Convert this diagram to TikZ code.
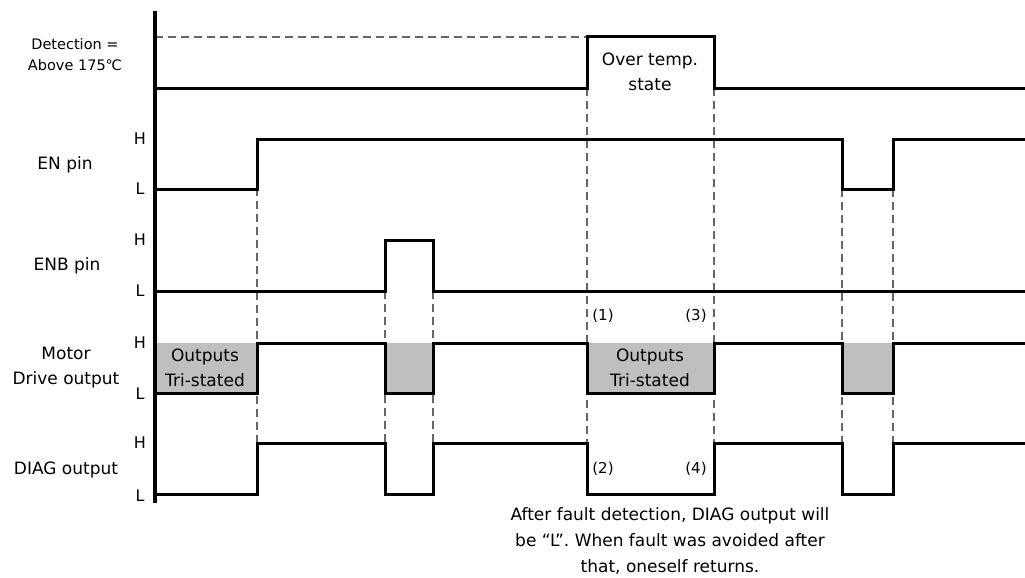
\documentclass[tikz,border=0pt]{standalone}
\usepackage{fontspec}
\setmainfont{DejaVu Sans}
\begin{document}
\begin{tikzpicture}[x=1pt,y=-1pt,
  sig/.style={line width=3pt, line join=miter},
  axisline/.style={line width=4pt},
  guide/.style={dash pattern=on 8pt off 5pt, line width=1.4pt, draw=black!60},
  tri/.style={fill=black!25},
  lab/.style={font=\fontsize{17}{25}\selectfont, inner sep=0pt, align=center},
  small/.style={font=\fontsize{14.5}{21}\selectfont, inner sep=0pt, align=center},
  num/.style={font=\fontsize{15}{17}\selectfont, inner sep=0pt},
  hl/.style={font=\fontsize{16}{18}\selectfont, inner sep=0pt}]
\useasboundingbox (0,0) rectangle (1025,578);

% gray tri-state areas
\fill[tri] (155,343) rectangle (257,393);
\fill[tri] (385,343) rectangle (433,393);
\fill[tri] (587,343) rectangle (714,393);
\fill[tri] (842,343) rectangle (893,393);

% guide lines
\draw[guide] (155,37) -- (587,37);
\draw[guide] (257,188) -- (257,443);
\draw[guide] (385,291) -- (385,443);
\draw[guide] (433,291) -- (433,443);
\draw[guide] (587,88) -- (587,443);
\draw[guide] (714,88) -- (714,443);
\draw[guide] (842,189) -- (842,443);
\draw[guide] (893,189) -- (893,443);

% waveforms
\draw[sig] (155,88) -- (587,88) -- (587,37) -- (714,37) -- (714,88) -- (1025,88);
\draw[sig] (155,189) -- (257,189) -- (257,139) -- (842,139) -- (842,189) -- (893,189) -- (893,139) -- (1025,139);
\draw[sig] (155,291) -- (385,291) -- (385,240) -- (433,240) -- (433,291) -- (1025,291);
\draw[sig] (155,393) -- (257,393) -- (257,343) -- (385,343) -- (385,393) -- (433,393) -- (433,343) -- (587,343) -- (587,393) -- (714,393) -- (714,343) -- (842,343) -- (842,393) -- (893,393) -- (893,343) -- (1025,343);
\draw[sig] (155,494) -- (257,494) -- (257,443) -- (385,443) -- (385,494) -- (433,494) -- (433,443) -- (587,443) -- (587,494) -- (714,494) -- (714,443) -- (842,443) -- (842,494) -- (893,494) -- (893,443) -- (1025,443);

% axis
\draw[axisline] (155,11) -- (155,503);

% signal names
\node[small] (det) at (75,55) {Detection =\\Above 175℃};
\node[lab] (en) at (65,165) {EN pin};
\node[lab] (enb) at (67,266) {ENB pin};
\node[lab] (mot) at (66,368) {Motor\\Drive output};
\node[lab] (diag) at (66,470) {DIAG output};

% H / L labels
\node[hl] (h1) at (140,139) {H};
\node[hl] (l1) at (140,189) {L};
\node[hl] (h2) at (140,240) {H};
\node[hl] (l2) at (140,291) {L};
\node[hl] (h3) at (140,343) {H};
\node[hl] (l3) at (140,394) {L};
\node[hl] (h4) at (140,443) {H};
\node[hl] (l4) at (140,496) {L};

% in-diagram texts
\node[lab] (ot) at (650,72) {Over temp.\\state};
\node[lab] (tri1) at (205,368) {Outputs\\Tri-stated};
\node[lab] (tri2) at (650,368) {Outputs\\Tri-stated};
\node[num] (n1) at (603,316) {(1)};
\node[num] (n3) at (696,316) {(3)};
\node[num] (n2) at (603,469) {(2)};
\node[num] (n4) at (696,469) {(4)};
\node[lab, font=\fontsize{17}{26}\selectfont] (note) at (670,541)
  {After fault detection, DIAG output will\\be “L”. When fault was avoided after\\that, oneself returns.};
\end{tikzpicture}
\end{document}
